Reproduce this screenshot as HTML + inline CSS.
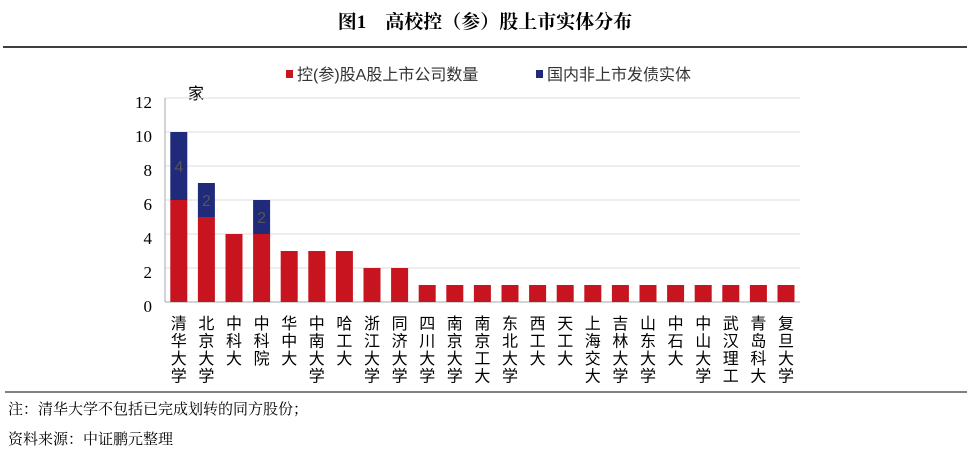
<!DOCTYPE html>
<html><head><meta charset="utf-8"><style>body{margin:0;background:#fff}</style></head><body>
<svg width="970" height="453" xmlns="http://www.w3.org/2000/svg" font-family="Liberation Sans, Noto Sans CJK SC, sans-serif">
<text x="485" y="28" text-anchor="middle" font-family="Liberation Serif, Noto Serif CJK SC, serif" font-weight="bold" font-size="19">图1　高校控（参）股上市实体分布</text>
<line x1="3" y1="47" x2="967" y2="47" stroke="#000" stroke-width="1.5"/>
<rect x="286" y="70" width="7" height="8" fill="#c8141e"/>
<text x="297" y="80" font-size="16" fill="#333">控(参)股A股上市公司数量</text>
<rect x="536" y="70" width="7" height="8" fill="#1f2a7a"/>
<text x="547" y="80" font-size="16" fill="#333">国内非上市发债实体</text>
<text x="188" y="99" font-size="16" fill="#000">家</text>
<g stroke="#ddd" stroke-width="1">
<line x1="165" y1="98" x2="800" y2="98"/><line x1="165" y1="132" x2="800" y2="132"/><line x1="165" y1="166" x2="800" y2="166"/><line x1="165" y1="200" x2="800" y2="200"/><line x1="165" y1="234" x2="800" y2="234"/><line x1="165" y1="268" x2="800" y2="268"/>
</g>
<line x1="165" y1="98" x2="165" y2="302" stroke="#aaa"/>
<line x1="165" y1="302" x2="800" y2="302" stroke="#aaa"/>
<g font-family="Liberation Serif, serif" font-size="17" text-anchor="end" fill="#000">
<text x="152" y="108">12</text><text x="152" y="142">10</text><text x="152" y="176">8</text><text x="152" y="210">6</text><text x="152" y="244">4</text><text x="152" y="278">2</text><text x="152" y="312">0</text>
</g>
<g fill="#c8141e">
<rect x="170.3" y="200" width="17" height="102"/>
<rect x="197.9" y="217" width="17" height="85"/>
<rect x="225.5" y="234" width="17" height="68"/>
<rect x="253.1" y="234" width="17" height="68"/>
<rect x="280.7" y="251" width="17" height="51"/>
<rect x="308.3" y="251" width="17" height="51"/>
<rect x="335.9" y="251" width="17" height="51"/>
<rect x="363.5" y="268" width="17" height="34"/>
<rect x="391.1" y="268" width="17" height="34"/>
<rect x="418.7" y="285" width="17" height="17"/>
<rect x="446.3" y="285" width="17" height="17"/>
<rect x="473.9" y="285" width="17" height="17"/>
<rect x="501.5" y="285" width="17" height="17"/>
<rect x="529.1" y="285" width="17" height="17"/>
<rect x="556.7" y="285" width="17" height="17"/>
<rect x="584.3" y="285" width="17" height="17"/>
<rect x="611.9" y="285" width="17" height="17"/>
<rect x="639.5" y="285" width="17" height="17"/>
<rect x="667.1" y="285" width="17" height="17"/>
<rect x="694.7" y="285" width="17" height="17"/>
<rect x="722.3" y="285" width="17" height="17"/>
<rect x="749.9" y="285" width="17" height="17"/>
<rect x="777.5" y="285" width="17" height="17"/>
</g>
<g fill="#1f2a7a">
<rect x="170.3" y="132" width="17" height="68"/>
<rect x="197.9" y="183" width="17" height="34"/>
<rect x="253.1" y="200" width="17" height="34"/>
</g>
<g font-size="16" text-anchor="middle" fill="#555">
<text x="178.8" y="172">4</text><text x="206.4" y="206">2</text><text x="261.6" y="223">2</text>
</g>
<g font-size="16" text-anchor="middle" fill="#000">
<text x="178.8" y="329"><tspan x="178.8">清</tspan><tspan x="178.8" dy="17.5">华</tspan><tspan x="178.8" dy="17.5">大</tspan><tspan x="178.8" dy="17.5">学</tspan></text>
<text x="206.4" y="329"><tspan x="206.4">北</tspan><tspan x="206.4" dy="17.5">京</tspan><tspan x="206.4" dy="17.5">大</tspan><tspan x="206.4" dy="17.5">学</tspan></text>
<text x="234" y="329"><tspan x="234">中</tspan><tspan x="234" dy="17.5">科</tspan><tspan x="234" dy="17.5">大</tspan></text>
<text x="261.6" y="329"><tspan x="261.6">中</tspan><tspan x="261.6" dy="17.5">科</tspan><tspan x="261.6" dy="17.5">院</tspan></text>
<text x="289.2" y="329"><tspan x="289.2">华</tspan><tspan x="289.2" dy="17.5">中</tspan><tspan x="289.2" dy="17.5">大</tspan></text>
<text x="316.8" y="329"><tspan x="316.8">中</tspan><tspan x="316.8" dy="17.5">南</tspan><tspan x="316.8" dy="17.5">大</tspan><tspan x="316.8" dy="17.5">学</tspan></text>
<text x="344.4" y="329"><tspan x="344.4">哈</tspan><tspan x="344.4" dy="17.5">工</tspan><tspan x="344.4" dy="17.5">大</tspan></text>
<text x="372" y="329"><tspan x="372">浙</tspan><tspan x="372" dy="17.5">江</tspan><tspan x="372" dy="17.5">大</tspan><tspan x="372" dy="17.5">学</tspan></text>
<text x="399.6" y="329"><tspan x="399.6">同</tspan><tspan x="399.6" dy="17.5">济</tspan><tspan x="399.6" dy="17.5">大</tspan><tspan x="399.6" dy="17.5">学</tspan></text>
<text x="427.2" y="329"><tspan x="427.2">四</tspan><tspan x="427.2" dy="17.5">川</tspan><tspan x="427.2" dy="17.5">大</tspan><tspan x="427.2" dy="17.5">学</tspan></text>
<text x="454.8" y="329"><tspan x="454.8">南</tspan><tspan x="454.8" dy="17.5">京</tspan><tspan x="454.8" dy="17.5">大</tspan><tspan x="454.8" dy="17.5">学</tspan></text>
<text x="482.4" y="329"><tspan x="482.4">南</tspan><tspan x="482.4" dy="17.5">京</tspan><tspan x="482.4" dy="17.5">工</tspan><tspan x="482.4" dy="17.5">大</tspan></text>
<text x="510" y="329"><tspan x="510">东</tspan><tspan x="510" dy="17.5">北</tspan><tspan x="510" dy="17.5">大</tspan><tspan x="510" dy="17.5">学</tspan></text>
<text x="537.6" y="329"><tspan x="537.6">西</tspan><tspan x="537.6" dy="17.5">工</tspan><tspan x="537.6" dy="17.5">大</tspan></text>
<text x="565.2" y="329"><tspan x="565.2">天</tspan><tspan x="565.2" dy="17.5">工</tspan><tspan x="565.2" dy="17.5">大</tspan></text>
<text x="592.8" y="329"><tspan x="592.8">上</tspan><tspan x="592.8" dy="17.5">海</tspan><tspan x="592.8" dy="17.5">交</tspan><tspan x="592.8" dy="17.5">大</tspan></text>
<text x="620.4" y="329"><tspan x="620.4">吉</tspan><tspan x="620.4" dy="17.5">林</tspan><tspan x="620.4" dy="17.5">大</tspan><tspan x="620.4" dy="17.5">学</tspan></text>
<text x="648" y="329"><tspan x="648">山</tspan><tspan x="648" dy="17.5">东</tspan><tspan x="648" dy="17.5">大</tspan><tspan x="648" dy="17.5">学</tspan></text>
<text x="675.6" y="329"><tspan x="675.6">中</tspan><tspan x="675.6" dy="17.5">石</tspan><tspan x="675.6" dy="17.5">大</tspan></text>
<text x="703.2" y="329"><tspan x="703.2">中</tspan><tspan x="703.2" dy="17.5">山</tspan><tspan x="703.2" dy="17.5">大</tspan><tspan x="703.2" dy="17.5">学</tspan></text>
<text x="730.8" y="329"><tspan x="730.8">武</tspan><tspan x="730.8" dy="17.5">汉</tspan><tspan x="730.8" dy="17.5">理</tspan><tspan x="730.8" dy="17.5">工</tspan></text>
<text x="758.4" y="329"><tspan x="758.4">青</tspan><tspan x="758.4" dy="17.5">岛</tspan><tspan x="758.4" dy="17.5">科</tspan><tspan x="758.4" dy="17.5">大</tspan></text>
<text x="786" y="329"><tspan x="786">复</tspan><tspan x="786" dy="17.5">旦</tspan><tspan x="786" dy="17.5">大</tspan><tspan x="786" dy="17.5">学</tspan></text>
</g>
<line x1="5" y1="392" x2="967" y2="392" stroke="#000" stroke-width="1"/>
<text x="8" y="414" font-family="Liberation Serif, Noto Serif CJK SC, serif" font-size="15">注：清华大学不包括已完成划转的同方股份；</text>
<text x="8" y="444" font-family="Liberation Serif, Noto Serif CJK SC, serif" font-size="15">资料来源：中证鹏元整理</text>
</svg>
</body></html>
